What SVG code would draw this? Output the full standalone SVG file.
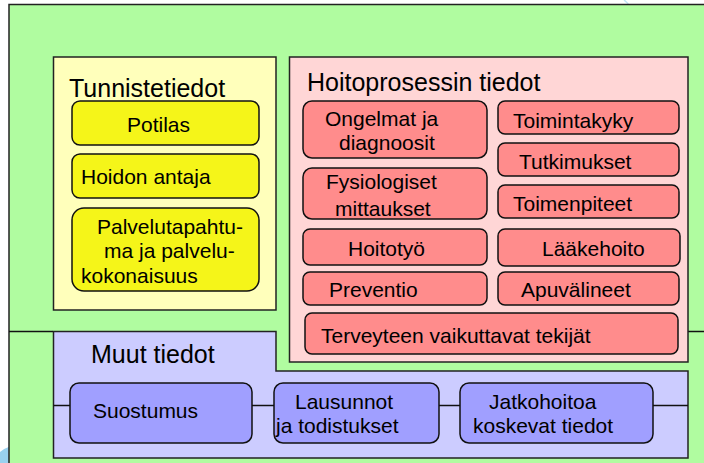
<svg xmlns="http://www.w3.org/2000/svg" width="704" height="463" viewBox="0 0 704 463">
<style>
text{font-family:"Liberation Sans",Arial,sans-serif;fill:#000}
.h{font-size:25px}
.t{font-size:21px}
.frame{stroke:#222;stroke-width:1.5}
.box{stroke:#111;stroke-width:1.5}
.y{fill:#F5F519}
.r{fill:#FF8C8C}
.b{fill:#A09FFF}
.line{stroke:#111;stroke-width:1.5;fill:none}
</style>
<rect x="0" y="0" width="704" height="463" fill="#ffffff"/>
<path d="M624,0 Q628,3 630,7" stroke="#BFE3F5" stroke-width="1.5" fill="none"/>
<path d="M0,463 L0,452 Q5,448 11,446 L9,463 Z" fill="#7FC6EA" opacity="0.8"/>
<g id="outer">
<rect x="9" y="4.5" width="710" height="480" fill="#B0FCA0" class="frame"/>
</g>
<g id="connectors">
<line x1="9" y1="331.5" x2="53" y2="331.5" class="line"/>
<line x1="688" y1="331.5" x2="704" y2="331.5" class="line"/>
</g>
<g id="tunnistetiedot">
<rect x="53.5" y="57" width="222.5" height="253" fill="#FFFFBB" class="frame"/>
<text x="69" y="97" class="h">Tunnistetiedot</text>
</g>
<g id="potilas">
<rect x="72" y="101" width="187" height="44" rx="8" class="box y"/>
<text x="127" y="132" class="t">Potilas</text>
</g>
<g id="hoidon-antaja">
<rect x="72" y="154" width="187" height="44" rx="8" class="box y"/>
<text x="81" y="184" class="t">Hoidon antaja</text>
</g>
<g id="palvelutapahtuma">
<rect x="72" y="208" width="187" height="83" rx="12" class="box y"/>
<text x="97" y="234" class="t">Palvelutapahtu-</text>
<text x="104" y="258" class="t">ma ja palvelu-</text>
<text x="81" y="283" class="t">kokonaisuus</text>
</g>
<g id="hoitoprosessin-tiedot">
<rect x="289.5" y="57" width="398.5" height="305" fill="#FFD6D6" class="frame"/>
<text x="307" y="91" class="h">Hoitoprosessin tiedot</text>
</g>
<g id="ongelmat">
<rect x="303" y="101" width="184" height="57" rx="9" class="box r"/>
<text x="325" y="126" class="t">Ongelmat ja</text>
<text x="339" y="150" class="t">diagnoosit</text>
</g>
<g id="toimintakyky">
<rect x="498" y="101" width="181" height="33" rx="7" class="box r"/>
<text x="513" y="128" class="t">Toimintakyky</text>
</g>
<g id="tutkimukset">
<rect x="498" y="143" width="181" height="33" rx="7" class="box r"/>
<text x="519" y="169" class="t">Tutkimukset</text>
</g>
<g id="fysiologiset">
<rect x="303" y="168" width="184" height="51" rx="9" class="box r"/>
<text x="326" y="189" class="t">Fysiologiset</text>
<text x="335" y="216" class="t">mittaukset</text>
</g>
<g id="toimenpiteet">
<rect x="498" y="185" width="181" height="33" rx="7" class="box r"/>
<text x="513" y="211" class="t">Toimenpiteet</text>
</g>
<g id="hoitotyo">
<rect x="303" y="229" width="184" height="36" rx="7" class="box r"/>
<text x="348" y="256" class="t">Hoitotyö</text>
</g>
<g id="laakehoito">
<rect x="498" y="229" width="182" height="37" rx="7" class="box r"/>
<text x="542" y="256" class="t">Lääkehoito</text>
</g>
<g id="preventio">
<rect x="303" y="272" width="184" height="33" rx="7" class="box r"/>
<text x="329" y="297" class="t">Preventio</text>
</g>
<g id="apuvalineet">
<rect x="498" y="272" width="181" height="33" rx="7" class="box r"/>
<text x="521" y="297" class="t">Apuvälineet</text>
</g>
<g id="terveyteen">
<rect x="305" y="313" width="373" height="41" rx="7" class="box r"/>
<text x="321" y="343" class="t">Terveyteen vaikuttavat tekijät</text>
</g>
<g id="muut-tiedot">
<path d="M53.5,331.5 H276 V371 H688 V458 H53.5 Z" fill="#CCCCFF" class="frame"/>
<text x="91" y="363" class="h">Muut tiedot</text>
</g>
<g id="muut-connectors">
<line x1="53.5" y1="405.5" x2="70" y2="405.5" class="line"/>
<line x1="252" y1="405.5" x2="274" y2="405.5" class="line"/>
<line x1="439" y1="405.5" x2="460" y2="405.5" class="line"/>
<line x1="653" y1="405.5" x2="688" y2="405.5" class="line"/>
</g>
<g id="suostumus">
<rect x="70" y="383" width="182" height="60" rx="9" class="box b"/>
<text x="93" y="418" class="t">Suostumus</text>
</g>
<g id="lausunnot">
<rect x="274" y="383" width="165" height="60" rx="9" class="box b"/>
<text x="295" y="409" class="t">Lausunnot</text>
<text x="276" y="433" class="t">ja todistukset</text>
</g>
<g id="jatkohoitoa">
<rect x="460" y="383" width="193" height="60" rx="9" class="box b"/>
<text x="489" y="409" class="t">Jatkohoitoa</text>
<text x="473" y="433" class="t">koskevat tiedot</text>
</g>
</svg>
